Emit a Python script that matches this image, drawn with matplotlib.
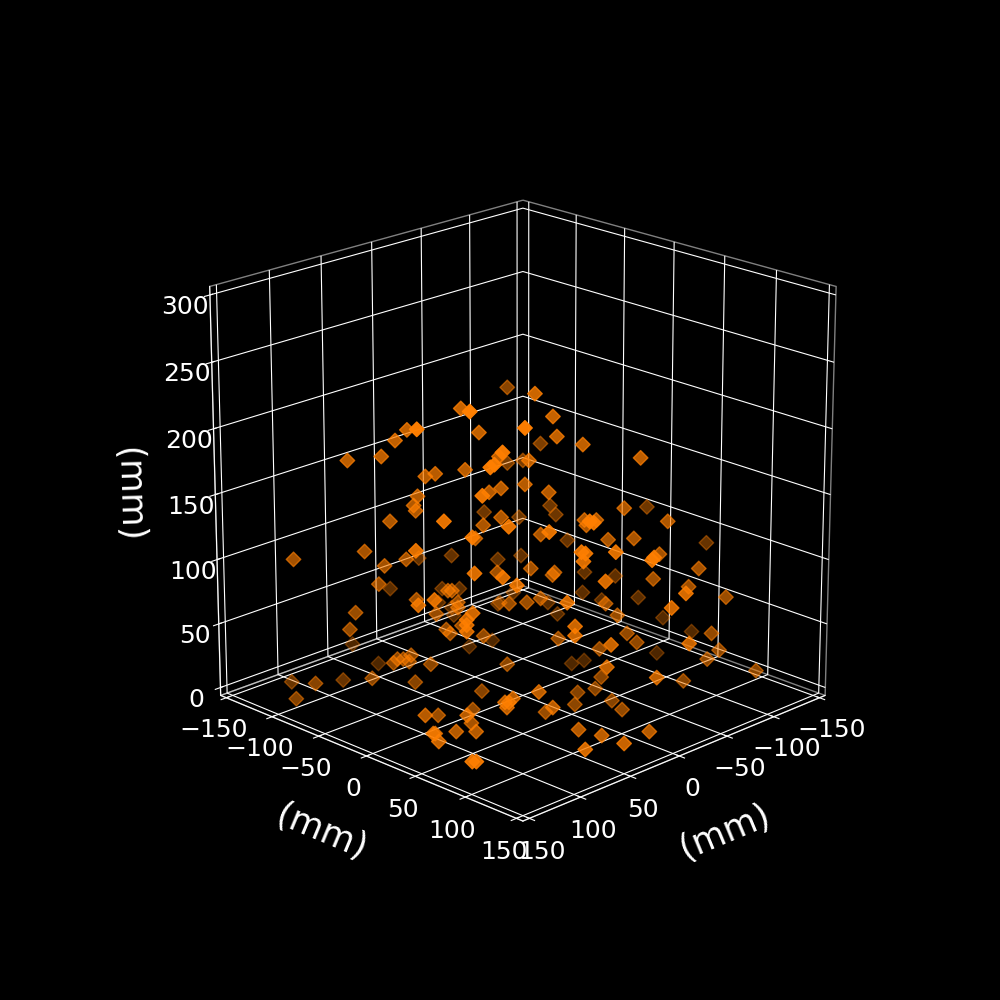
import matplotlib
matplotlib.use("Agg")
import matplotlib.pyplot as plt

# marker positions in mm
x_mm = [-22,51,86,42,78,112,84,108,91,70,32,-22,76,74,69,64,49,80,37,31,73,75,74,-10,31,87,99,40,67,85,44,100,136,113,24,79,7,-17,90,84,33,70,93,39,12,58,56,3,74,112,104,14,53,7,-17,27,63,105,64,85,108,59,48,86,84,81,77,78,67,97,88,126,117,136,75,-2,40,-14,59,57,88,88,88,51,6,53,28,41,109,83,58,88,76,86,96,110,109,117,125,123,69,65,68,67,34,34,2,38,-48,-43,11,18,-25,-18,-19,16,-33,-38,-28,-71,-22,-61,-100,-62,-53,18,-20,-17,-8,1,-23,-18,-7,-62,-23,-74,-80,-99,-118,-76,-103,-14,-90,19,-78,-46,-64,-21,-83,52,45,26,32,28,27,-1,54,14,5,59,3,-39,-10,-39,17,-30,19,7,-44,-47,-28,11,47,-53,-31,-94,-53,27,-11,-17,-12,25,-23,-36,-125,31,29,30,14,-49,-4,-5,-29,16,-62,4,5,-69]
y_mm = [-38,-11,34,-2,-38,8,-44,-68,-51,50,8,-38,44,46,-29,-24,-9,40,3,9,-33,-35,-34,-50,9,-47,21,0,53,35,-4,-60,-96,7,-84,-39,-67,-43,-50,36,7,50,-53,-99,-72,-18,-16,-63,-34,8,16,-74,-13,-67,-43,13,57,-65,-24,35,-68,-119,-103,-46,-44,-41,-37,-38,-27,-57,-98,-86,-122,-96,-35,-58,0,-46,-19,-17,32,32,32,-11,-66,-13,12,-1,11,-3,7,32,24,39,29,20,21,33,75,77,51,55,52,53,86,86,38,82,-12,-17,29,22,-35,-42,59,104,73,78,68,11,62,1,40,2,-2,102,60,57,48,54,68,83,127,102,143,114,120,139,58,116,43,134,30,101,18,86,104,141,123,68,75,49,88,107,128,126,116,26,35,61,37,-21,50,79,23,-30,21,33,-16,-13,-32,29,73,-7,71,34,93,93,51,57,52,95,63,76,65,89,91,90,106,89,124,125,-31,24,2,36,35,109]
z_mm = [217,225,242,207,209,229,201,186,189,212,189,159,201,203,174,176,179,180,162,165,159,152,148,121,143,140,161,137,157,149,127,117,111,139,85,111,87,84,106,122,101,119,92,61,61,87,87,61,80,98,102,50,78,46,49,77,113,70,69,92,57,17,3,31,34,34,37,32,30,19,3,15,3,3,16,15,52,20,57,54,87,83,78,60,40,74,30,9,14,2,2,14,2,3,3,3,3,3,3,3,24,27,20,24,82,75,50,100,41,50,81,78,58,50,42,68,54,47,68,52,77,58,10,4,3,51,20,11,8,3,3,2,43,17,69,34,41,25,27,54,38,96,54,116,71,96,90,107,82,32,20,3,3,3,3,3,3,236,219,230,204,174,198,188,186,161,168,162,126,119,117,130,153,99,150,125,140,161,141,141,137,160,126,127,97,138,137,131,138,115,132,134,87,104,74,101,99,104]

xy_ticks = [-150, -100, -50, 0, 50, 100, 150]
z_ticks = [0, 50, 100, 150, 200, 250, 300]
axis_label = "(mm)"

plt.style.use("dark_background")
plt.rcParams["axes3d.automargin"] = True

fig = plt.figure(figsize=(10, 10), dpi=100)
ax = fig.add_subplot(projection="3d")
ax.set_box_aspect((1, 1, 1), zoom=0.95)
ax.view_init(elev=20, azim=45)

ax.scatter(x_mm, y_mm, z_mm, marker="D", s=55, color="#ff7f00")

ax.set_xlim(-150, 150)
ax.set_ylim(-150, 150)
ax.set_zlim(0, 300)
ax.set_xticks(xy_ticks)
ax.set_yticks(xy_ticks)
ax.set_zticks(z_ticks)

for axis in (ax.xaxis, ax.yaxis, ax.zaxis):
    axis.pane.fill = False
    axis.pane.set_edgecolor("w")
    axis.set_rotate_label(True)

ax.tick_params(labelsize=18)
ax.set_xlabel(axis_label, fontsize=25, labelpad=20)
ax.set_ylabel(axis_label, fontsize=25, labelpad=20)
ax.set_zlabel(axis_label, fontsize=25, labelpad=20)

fig.savefig("out.png")
